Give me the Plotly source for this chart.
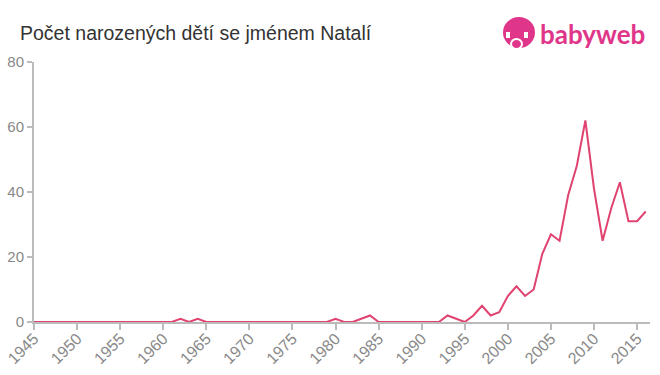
import plotly.graph_objects as go

years = list(range(1945, 2017))
counts_by_year = {
    1962: 1, 1963: 0, 1964: 1,
    1980: 1, 1981: 0, 1982: 0, 1983: 1, 1984: 2, 1985: 0,
    1992: 0, 1993: 2, 1994: 1, 1995: 0, 1996: 2, 1997: 5, 1998: 2, 1999: 3,
    2000: 8, 2001: 11, 2002: 8, 2003: 10, 2004: 21, 2005: 27, 2006: 25,
    2007: 39, 2008: 48, 2009: 62, 2010: 41, 2011: 25, 2012: 35, 2013: 43,
    2014: 31, 2015: 31, 2016: 34,
}
values = [counts_by_year.get(y, 0) for y in years]
tick_years = list(range(1945, 2016, 5))
y_ticks = [0, 20, 40, 60, 80]

line_color = "#e0436f"
axis_color = "#bbbbbb"
text_color = "#888888"

L, R, T, B = 34, 10, 62, 53
PW, PH = 660 - L - R, 375 - T - B

fig = go.Figure()
fig.add_trace(go.Scatter(
    x=years, y=values, mode="lines",
    line=dict(color=line_color, width=2),
    hoverinfo="x+y",
))

fig.update_layout(
    width=660, height=375,
    margin=dict(l=L, r=R, t=T, b=B, autoexpand=False),
    paper_bgcolor="white", plot_bgcolor="white",
    showlegend=False,
    font=dict(family="Liberation Sans, Arial, sans-serif", color=text_color),
    title=dict(
        text="Počet narozených dětí se jménem Natalí",
        x=20 / 660, xanchor="left", y=1 - 33 / 375, yanchor="middle",
        xref="container", yref="container",
        font=dict(size=19.5, color="#333333"),
    ),
    xaxis=dict(
        range=[1945, 2016.5],
        tickmode="array", tickvals=tick_years, ticktext=[str(t) for t in tick_years],
        tickangle=-45, ticks="outside", ticklen=6, tickcolor=axis_color, tickwidth=2,
        ticklabelstandoff=-7,
        showline=True, linecolor=axis_color, linewidth=2,
        showgrid=False, zeroline=False, automargin=False,
        tickfont=dict(size=16, color=text_color),
        fixedrange=True,
    ),
    yaxis=dict(
        range=[0, 80],
        tickmode="array", tickvals=y_ticks,
        ticks="outside", ticklen=5, tickcolor=axis_color, tickwidth=2,
        showline=True, linecolor=axis_color, linewidth=2,
        showgrid=False, zeroline=False, automargin=False,
        tickfont=dict(size=15, color=text_color),
        fixedrange=True,
    ),
)

logo_pink = "#e0368a"

def px_x(v):
    return (v - L) / PW

def px_y(v):
    return (375 - B - v) / PH

# logo icon
fig.add_shape(type="circle", xref="paper", yref="paper",
              x0=px_x(503), x1=px_x(535), y0=px_y(48), y1=px_y(17),
              fillcolor=logo_pink, line=dict(width=0))
fig.add_shape(type="circle", xref="paper", yref="paper",
              x0=px_x(511), x1=px_x(522), y0=px_y(49), y1=px_y(39),
              fillcolor=logo_pink, line=dict(color="white", width=2))
fig.add_shape(type="rect", xref="paper", yref="paper",
              x0=px_x(506), x1=px_x(510), y0=px_y(38), y1=px_y(32),
              fillcolor="white", line=dict(width=0))
fig.add_shape(type="rect", xref="paper", yref="paper",
              x0=px_x(524), x1=px_x(528), y0=px_y(38), y1=px_y(32),
              fillcolor="white", line=dict(width=0))
fig.add_annotation(
    xref="paper", yref="paper",
    x=px_x(538), y=px_y(34),
    xanchor="left", yanchor="middle",
    text="<b>babyweb</b>", showarrow=False,
    font=dict(family="Lato, Open Sans, sans-serif", size=26, color=logo_pink),
)

fig.write_html("out.html", config={"displayModeBar": False},
               post_script="document.body.style.margin='0';")
